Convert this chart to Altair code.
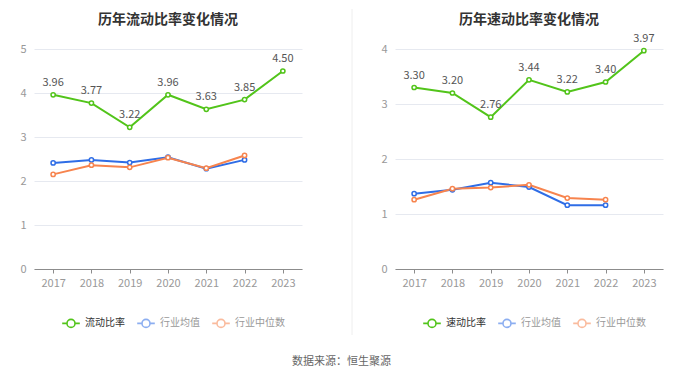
import altair as alt
import pandas as pd

years = ["2017", "2018", "2019", "2020", "2021", "2022", "2023"]

current_ratio = [3.96, 3.77, 3.22, 3.96, 3.63, 3.85, 4.50]
current_ind_mean = [2.41, 2.48, 2.42, 2.54, 2.28, 2.48]
current_ind_median = [2.15, 2.36, 2.31, 2.53, 2.29, 2.58]

quick_ratio = [3.30, 3.20, 2.76, 3.44, 3.22, 3.40, 3.97]
quick_ind_mean = [1.37, 1.44, 1.57, 1.49, 1.16, 1.16]
quick_ind_median = [1.26, 1.46, 1.48, 1.53, 1.29, 1.26]

GREEN = "#52c41a"
BLUE = "#2f6de6"
ORANGE = "#f7844e"
FONT = "Noto Sans CJK SC"

SYMBOL = ("M-1.1,0L-0.5,0M0.5,0L1.1,0"
          "M-0.5,0A0.5,0.5,0,1,0,0.5,0A0.5,0.5,0,1,0,-0.5,0")


def make_df(main_name, main_vals, mean_vals, median_vals):
    rows = []
    for name, vals in [(main_name, main_vals), ("行业均值", mean_vals), ("行业中位数", median_vals)]:
        for y, v in zip(years, vals):
            rows.append({"year": y, "value": v, "series": name})
    return pd.DataFrame(rows)


def panel(title, main_name, main_vals, mean_vals, median_vals, ymax, legend_x, title_offset):
    df = make_df(main_name, main_vals, mean_vals, median_vals)
    domain = [main_name, "行业均值", "行业中位数"]
    base = alt.Chart(df).encode(
        x=alt.X("year:O", sort=years,
                scale=alt.Scale(type="point", padding=0.5, domain=years),
                axis=alt.Axis(title=None, labelAngle=0, grid=False, domainColor="#8c8c8c",
                              tickColor="#8c8c8c", tickSize=4, labelColor="#999999",
                              labelFontSize=11, labelPadding=4)),
        y=alt.Y("value:Q", scale=alt.Scale(domain=[0, ymax], nice=False),
                axis=alt.Axis(title=None, domain=False, ticks=False, grid=True,
                              gridColor="#e6e9f0", values=list(range(0, ymax + 1)),
                              labelColor="#999999", labelFontSize=11, labelPadding=8)),
        color=alt.Color("series:N",
                        scale=alt.Scale(domain=domain, range=[GREEN, BLUE, ORANGE]),
                        legend=alt.Legend(
                            title=None, orient="none", direction="horizontal",
                            legendX=legend_x, legendY=265,
                            symbolType=SYMBOL, symbolSize=256, symbolStrokeWidth=1.6,
                            symbolFillColor="white",
                            symbolOpacity=alt.ExprRef(expr=f"datum.value == '{main_name}' ? 1 : 0.55"),
                            labelColor=alt.ExprRef(expr=f"datum.value == '{main_name}' ? '#333333' : '#999999'"),
                            labelFontSize=10, labelOffset=5, columnPadding=9)),
    )
    lines = base.mark_line(strokeWidth=2)
    points = base.mark_point(shape="circle", size=18, filled=False, fill="white",
                             strokeWidth=1.5, opacity=1)
    labels = base.transform_filter(alt.datum.series == main_name).mark_text(
        dy=-12, fontSize=11, color="#555555"
    ).encode(text=alt.Text("value:Q", format=".2f"), color=alt.value("#555555"))
    return alt.layer(lines, points, labels).properties(
        width=268, height=220,
        title=alt.TitleParams(title, fontSize=14, fontWeight="bold", color="#333333",
                              anchor="middle", offset=title_offset, font=FONT),
    )


left = panel("历年流动比率变化情况", "流动比率", current_ratio, current_ind_mean, current_ind_median, 5, 28, 16)
right = panel("历年速动比率变化情况", "速动比率", quick_ratio, quick_ind_mean, quick_ind_median, 4, 28, 6)

divider = alt.Chart(pd.DataFrame({"d": [0]})).mark_rule(color="#eeeeee", strokeWidth=1).encode(
    x=alt.value(25), y=alt.value(-40), y2=alt.value(286)
).properties(width=28, height=220)

chart = alt.hconcat(left, divider, right, spacing=25).resolve_scale(color="independent", y="independent").properties(
    padding={"left": 11, "top": 0, "right": 5, "bottom": 5},
    title=alt.TitleParams("数据来源：恒生聚源", orient="bottom", anchor="middle", fontSize=11,
                          fontWeight="normal", color="#666666", offset=20, font=FONT),
).configure(font=FONT).configure_view(stroke=None)

chart.save("out.html", embed_options={"renderer": "svg", "actions": False})
